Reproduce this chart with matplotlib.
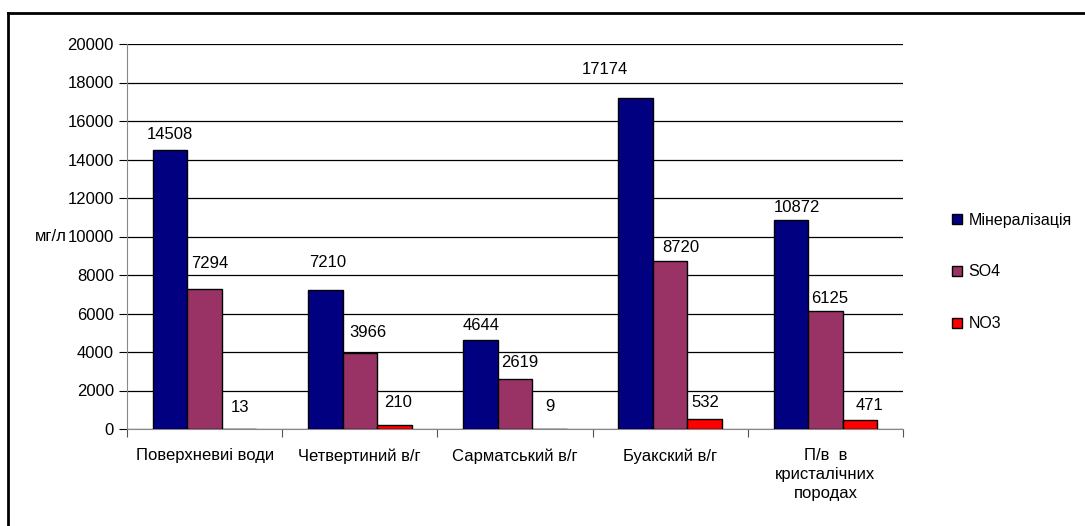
import matplotlib
matplotlib.use("Agg")
import matplotlib.pyplot as plt
from matplotlib.lines import Line2D
import numpy as np

CATEGORIES = [
    "Поверхневиі води",
    "Четвертиний в/г",
    "Сарматський в/г",
    "Буакский в/г",
    "П/в  в\nкристалічних\nпородах",
]
SERIES = ["Мінералізація", "SO4", "NO3"]
MINERAL = [14508, 7210, 4644, 17174, 10872]
SO4 = [7294, 3966, 2619, 8720, 6125]
NO3 = [13, 210, 9, 532, 471]

COLORS = ["#000080", "#993366", "#FF0000"]

# label nudges in pixels (dx, dy) relative to bar top centre, as placed in the original
LABEL_SHIFT = [
    [(0, 15), (2, 28), (1, 14), (-31, 29), (6, 12)],
    [(5, 25), (8, 20), (5, 16), (11, 14), (4, 13)],
    [(1, 21), (4, 22), (0, 22), (1, 16), (10, 14)],
]

plt.rcParams["font.family"] = ["Liberation Sans", "DejaVu Sans"]
FS = 12

fig = plt.figure(figsize=(10.85, 5.26), dpi=100)
ax = fig.add_axes([127 / 1085, 1 - 429 / 526, (903 - 127) / 1085, (429 - 44) / 526])

x = np.arange(len(CATEGORIES))
w = 1 / 4.5
for k, (vals, color) in enumerate(zip([MINERAL, SO4, NO3], COLORS)):
    xs = x + (k - 1) * w
    ax.bar(xs, vals, width=w, color=color, edgecolor="black", linewidth=1.0,
           label=SERIES[k], zorder=3)
    for i, (xi, v) in enumerate(zip(xs, vals)):
        dx, dy = LABEL_SHIFT[k][i]
        ax.annotate(str(v), (xi, v), xytext=(dx, dy), textcoords="offset pixels",
                    ha="center", va="center", fontsize=FS, zorder=4)

ax.set_xlim(-0.5, len(CATEGORIES) - 0.5)
ax.set_ylim(0, 20000)
ax.set_yticks(np.arange(0, 20001, 2000))
ax.tick_params(axis="y", labelsize=FS, length=6, direction="out", color="black")
ax.yaxis.grid(True, color="black", linewidth=0.9, zorder=0)

ax.set_xticks(np.arange(-0.5, len(CATEGORIES)), labels=[""] * (len(CATEGORIES) + 1))
ax.tick_params(axis="x", which="major", length=6, color="#555555")
ax.set_xticks(x, minor=True)
ax.set_xticklabels(CATEGORIES, minor=True, fontsize=FS, linespacing=1.3, va="top")
ax.tick_params(axis="x", which="minor", length=0, pad=14)

for side in ["top", "right"]:
    ax.spines[side].set_visible(False)
ax.spines["left"].set_color("#888888")
ax.spines["bottom"].set_color("#888888")

ax.set_ylabel("мг/л", fontsize=FS, rotation=0, va="center", labelpad=12)

fig.legend(loc="center left", bbox_to_anchor=(938 / 1085, 1 - 272 / 526),
           frameon=False, fontsize=11.5, handlelength=0.6, handleheight=0.6,
           handletextpad=0.4, labelspacing=2.3)

# outer chart frame (right and bottom edges lie outside the image)
fx = 8 / 1085
fy = 1 - 13 / 526
fig.add_artist(Line2D([fx, fx], [0, fy], color="black", linewidth=2, transform=fig.transFigure))
fig.add_artist(Line2D([fx, 1], [fy, fy], color="black", linewidth=2, transform=fig.transFigure))

fig.savefig("out.png", dpi=100)
